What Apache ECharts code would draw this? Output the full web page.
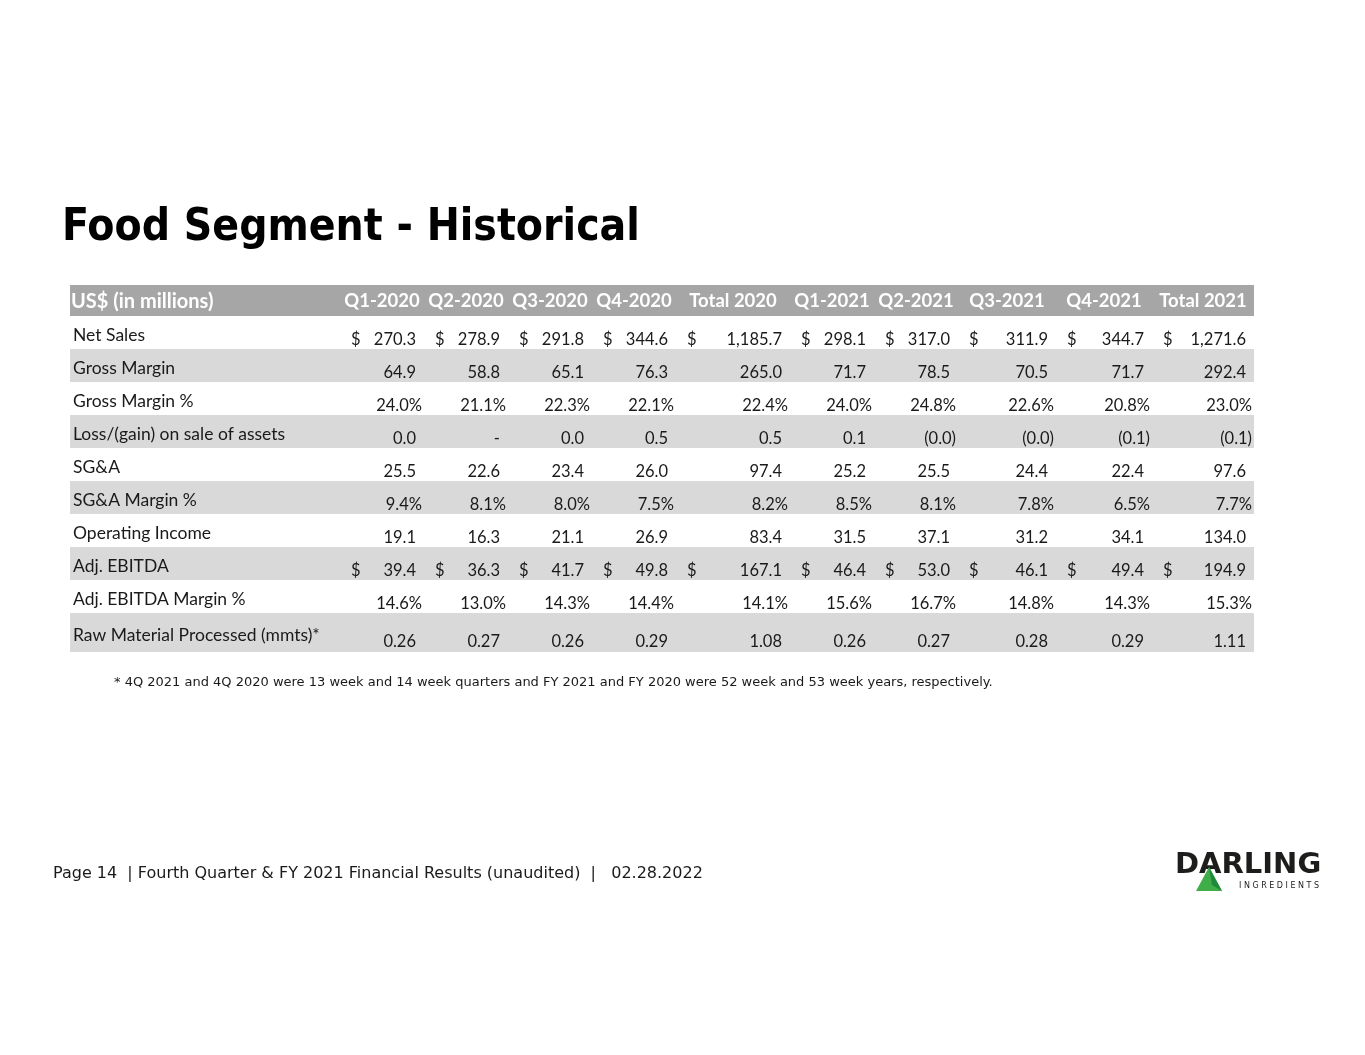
<!DOCTYPE html>
<html>
<head>
  <meta charset="utf-8" />
  <title>Food Segment - Historical</title>
  <script src="https://cdn.jsdelivr.net/npm/echarts@6/dist/echarts.min.js"></script>
  <style>
    html, body { margin: 0; padding: 0; background: #fff; }
  </style>
</head>
<body>
  <div id="main" style="width: 1365px;height:1055px;"></div>
  <script type="text/javascript">
    // table data
    var headerLabel = 'US$ (in millions)';
    var periods = ['Q1-2020', 'Q2-2020', 'Q3-2020', 'Q4-2020', 'Total 2020',
      'Q1-2021', 'Q2-2021', 'Q3-2021', 'Q4-2021', 'Total 2021'];
    var rowLabels = ['Net Sales', 'Gross Margin', 'Gross Margin %', 'Loss/(gain) on sale of assets',
      'SG&A', 'SG&A Margin %', 'Operating Income', 'Adj. EBITDA', 'Adj. EBITDA Margin %',
      'Raw Material Processed (mmts)*'];

    var netSales = [270.3, 278.9, 291.8, 344.6, 1185.7, 298.1, 317.0, 311.9, 344.7, 1271.6];
    var grossMargin = [64.9, 58.8, 65.1, 76.3, 265.0, 71.7, 78.5, 70.5, 71.7, 292.4];
    var grossMarginPct = [24.0, 21.1, 22.3, 22.1, 22.4, 24.0, 24.8, 22.6, 20.8, 23.0];
    var lossGain = ['0.0', '-', '0.0', '0.5', '0.5', '0.1', '(0.0)', '(0.0)', '(0.1)', '(0.1)'];
    var sga = [25.5, 22.6, 23.4, 26.0, 97.4, 25.2, 25.5, 24.4, 22.4, 97.6];
    var sgaMarginPct = [9.4, 8.1, 8.0, 7.5, 8.2, 8.5, 8.1, 7.8, 6.5, 7.7];
    var operatingIncome = [19.1, 16.3, 21.1, 26.9, 83.4, 31.5, 37.1, 31.2, 34.1, 134.0];
    var adjEbitda = [39.4, 36.3, 41.7, 49.8, 167.1, 46.4, 53.0, 46.1, 49.4, 194.9];
    var adjEbitdaMarginPct = [14.6, 13.0, 14.3, 14.4, 14.1, 15.6, 16.7, 14.8, 14.3, 15.3];
    var rawMaterial = [0.26, 0.27, 0.26, 0.29, 1.08, 0.26, 0.27, 0.28, 0.29, 1.11];

    var footnote = '* 4Q 2021 and 4Q 2020 were 13 week and 14 week quarters and FY 2021 and FY 2020 were 52 week and 53 week years, respectively.';
    var footer = 'Page 14  | Fourth Quarter & FY 2021 Financial Results (unaudited)  |   02.28.2022';

    // row kinds: 'usd' = $ prefix, 'num', 'pct', 'txt'
    var rows = [
      [netSales, 'usd', 1],
      [grossMargin, 'num', 1],
      [grossMarginPct, 'pct', 1],
      [lossGain, 'txt', 1],
      [sga, 'num', 1],
      [sgaMarginPct, 'pct', 1],
      [operatingIncome, 'num', 1],
      [adjEbitda, 'usd', 1],
      [adjEbitdaMarginPct, 'pct', 1],
      [rawMaterial, 'num', 2]
    ];

    // layout (table units = px inside grid)
    var colWidths = [270, 84, 84, 84, 84, 114, 84, 84, 98, 96, 102];
    var rowHeights = [31, 33, 33, 33, 33, 33, 33, 33, 33, 33, 39];
    var colEdges = [0], rowEdges = [0];
    colWidths.forEach(function (w, i) { colEdges.push(colEdges[i] + w); });
    rowHeights.forEach(function (h, i) { rowEdges.push(rowEdges[i] + h); });
    var tableW = colEdges[colEdges.length - 1];
    var tableH = rowEdges[rowEdges.length - 1];

    var FONT = 'Lato, "Open Sans", sans-serif';

    function fmt(v, kind, dec) {
      if (kind === 'txt') return v;
      var s = v.toFixed(dec);
      var parts = s.split('.');
      parts[0] = parts[0].replace(/\B(?=(\d{3})+(?!\d))/g, ',');
      s = parts.join('.');
      return kind === 'pct' ? s + '%' : s;
    }

    // build cells
    var cells = [];
    cells.push({ col: 0, row: 0, text: headerLabel, type: 'hlabel' });
    periods.forEach(function (p, i) {
      cells.push({ col: i + 1, row: 0, text: p, type: 'hcol' });
    });
    rowLabels.forEach(function (lab, r) {
      cells.push({ col: 0, row: r + 1, text: lab, type: 'label' });
      var vals = rows[r][0], kind = rows[r][1], dec = rows[r][2];
      vals.forEach(function (v, i) {
        var t = fmt(v, kind, dec);
        var wide = /[%)]$/.test(t);
        cells.push({ col: i + 1, row: r + 1, text: t, type: wide ? 'wide' : 'val', usd: kind === 'usd', kind: kind });
      });
    });

    function bandItem(params, api) {
      var r = params.dataIndex;
      var p0 = api.coord([0, rowEdges[r]]);
      var p1 = api.coord([tableW, rowEdges[r + 1]]);
      var fill = r === 0 ? '#a6a6a6' : (r % 2 === 0 ? '#d9d9d9' : '#ffffff');
      return {
        type: 'rect',
        shape: { x: p0[0], y: p0[1], width: p1[0] - p0[0], height: p1[1] - p0[1] },
        style: { fill: fill }
      };
    }

    function cellItem(params, api) {
      var c = cells[params.dataIndex];
      var p0 = api.coord([colEdges[c.col], rowEdges[c.row]]);
      var p1 = api.coord([colEdges[c.col + 1], rowEdges[c.row + 1]]);
      var mid = (p0[1] + p1[1]) / 2;
      var kids = [];
      if (c.type === 'hlabel' || c.type === 'hcol') {
        kids.push({
          type: 'text',
          style: {
            text: c.text,
            x: c.type === 'hlabel' ? p0[0] + 1 : (p0[0] + p1[0]) / 2,
            y: mid + 1,
            align: c.type === 'hlabel' ? 'left' : 'center',
            verticalAlign: 'middle',
            fill: '#ffffff',
            font: 'bold ' + (c.type === 'hlabel' ? 20 : 18.5) + 'px ' + FONT
          }
        });
      } else if (c.type === 'label') {
        kids.push({
          type: 'text',
          style: {
            text: c.text, x: p0[0] + 3, y: mid + 2.5, align: 'left', verticalAlign: 'middle',
            fill: '#1a1a1a', font: '17.5px ' + FONT
          }
        });
      } else {
        var vy = p1[1] - (c.row === rowEdges.length - 2 ? 10 : 9);
        kids.push({
          type: 'text',
          style: {
            text: c.text,
            x: p1[0] - (c.type === 'wide' ? 2 : 8),
            y: vy, align: 'right', verticalAlign: 'middle',
            fill: '#1a1a1a', font: '16.5px ' + FONT
          }
        });
        if (c.usd) {
          kids.push({
            type: 'text',
            style: {
              text: '$', x: p0[0] + 11, y: vy, align: 'left', verticalAlign: 'middle',
              fill: '#1a1a1a', font: '16.5px ' + FONT
            }
          });
        }
      }
      return { type: 'group', children: kids };
    }

    var myChart = echarts.init(document.getElementById('main'));

    var option = {
      backgroundColor: '#ffffff',
      animation: false,
      title: {
        text: 'Food Segment - Historical',
        left: 57,
        top: 202,
        textStyle: {
          fontFamily: '"DejaVu Sans Condensed", "DejaVu Sans", sans-serif',
          fontWeight: 'bold',
          fontSize: 44,
          color: '#000000'
        }
      },
      grid: { left: 70, top: 285, width: tableW, height: tableH },
      xAxis: { type: 'value', min: 0, max: tableW, show: false },
      yAxis: { type: 'value', min: 0, max: tableH, inverse: true, show: false },
      series: [
        {
          type: 'custom',
          renderItem: bandItem,
          data: rowHeights.map(function (h, i) { return [0, rowEdges[i]]; }),
          silent: true
        },
        {
          type: 'custom',
          renderItem: cellItem,
          data: cells.map(function (c) { return [colEdges[c.col], rowEdges[c.row]]; }),
          silent: true
        }
      ],
      graphic: [
        {
          type: 'text', left: 114, top: 676,
          style: { text: footnote, fill: '#1a1a1a', font: '13px "DejaVu Sans", sans-serif' }
        },
        {
          type: 'text', left: 53, top: 866,
          style: { text: footer, fill: '#1a1a1a', font: '16px "DejaVu Sans", sans-serif' }
        },
        {
          type: 'group', left: 1175, top: 851,
          children: [
            {
              type: 'text', x: 0, y: 0,
              style: { text: 'DARLING', fill: '#1d1d1b', font: 'bold 29px "DejaVu Sans", sans-serif' }
            },
            {
              type: 'polygon',
              shape: { points: [[21, 40], [34, 16], [47, 40]] },
              style: { fill: '#3fae49' }
            },
            {
              type: 'polygon',
              shape: { points: [[34, 16], [47, 40], [37, 34]] },
              style: { fill: '#1f8a3a' }
            },
            {
              type: 'text', x: 64, y: 31,
              style: { text: 'I N G R E D I E N T S', fill: '#1d1d1b', font: '8px "DejaVu Sans", sans-serif' }
            }
          ]
        }
      ]
    };

    option && myChart.setOption(option);
  </script>
</body>
</html>
